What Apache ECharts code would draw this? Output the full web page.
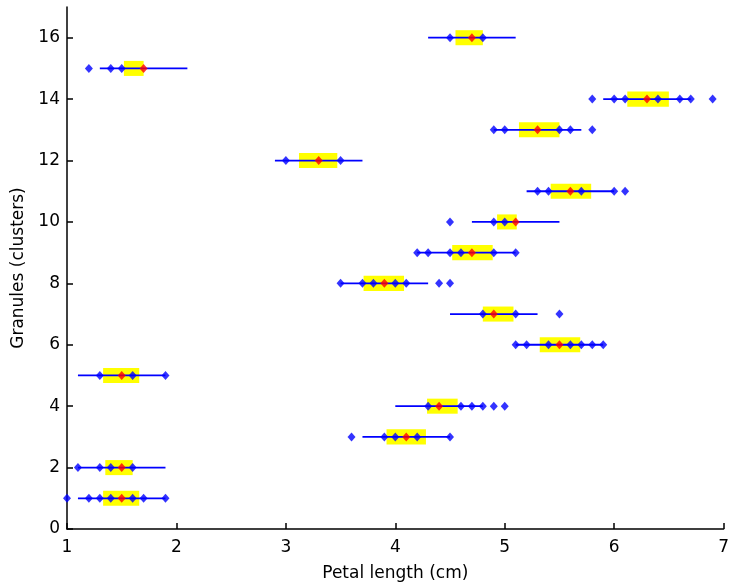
<!DOCTYPE html>
<html>
<head>
<meta charset="utf-8">
<script src="https://cdn.jsdelivr.net/npm/echarts@6/dist/echarts.min.js"></script>
<style>
  html, body { margin: 0; padding: 0; background: #fff; }
  #chart { width: 732px; height: 588px; }
</style>
</head>
<body>
<div id="chart"></div>
<script>
// Granule index (one row per cluster)
const granules = [1, 2, 3, 4, 5, 6, 7, 8, 9, 10, 11, 12, 13, 14, 15, 16];
// Support interval of each granule (blue line)
const supportLow  = [1.1, 1.1, 3.7, 4.0, 1.1, 5.1, 4.5, 3.5, 4.2, 4.7, 5.2, 2.9, 4.9, 5.9, 1.3, 4.3];
const supportHigh = [1.9, 1.9, 4.5, 4.8, 1.9, 5.9, 5.3, 4.3, 5.1, 5.5, 6.0, 3.7, 5.7, 6.7, 2.1, 5.1];
// Core interval of each granule (yellow band)
const coreLow  = [1.33, 1.35, 3.92, 4.29, 1.33, 5.32, 4.80, 3.71, 4.52, 4.93, 5.42, 3.12, 5.13, 6.12, 1.52, 4.55];
const coreHigh = [1.66, 1.60, 4.28, 4.57, 1.66, 5.69, 5.08, 4.08, 4.89, 5.11, 5.79, 3.47, 5.50, 6.50, 1.70, 4.80];
// Prototype of each granule (red marker)
const prototypes = [1.5, 1.5, 4.1, 4.4, 1.5, 5.5, 4.9, 3.9, 4.7, 5.1, 5.6, 3.3, 5.3, 6.3, 1.7, 4.7];
// Member samples of each granule (blue markers)
const members = [
  [1.0, 1.2, 1.3, 1.4, 1.6, 1.7, 1.9],
  [1.1, 1.3, 1.4, 1.6],
  [3.6, 3.9, 4.0, 4.2, 4.5],
  [4.3, 4.6, 4.7, 4.8, 4.9, 5.0],
  [1.3, 1.6, 1.9],
  [5.1, 5.2, 5.4, 5.6, 5.7, 5.8, 5.9],
  [4.8, 5.1, 5.5],
  [3.5, 3.7, 3.8, 4.0, 4.1, 4.4, 4.5],
  [4.2, 4.3, 4.5, 4.6, 4.9, 5.1],
  [4.5, 4.9, 5.0],
  [5.3, 5.4, 5.7, 6.0, 6.1],
  [3.0, 3.5],
  [4.9, 5.0, 5.5, 5.6, 5.8],
  [5.8, 6.0, 6.1, 6.4, 6.6, 6.7, 6.9],
  [1.2, 1.4, 1.5],
  [4.5, 4.8]
];
const xTicks = [1, 2, 3, 4, 5, 6, 7];
const yTicks = [0, 2, 4, 6, 8, 10, 12, 14, 16];

const intervalData = granules.map((g, i) => [g, supportLow[i], supportHigh[i], coreLow[i], coreHigh[i]]);
const memberData = [];
granules.forEach((g, i) => members[i].forEach(v => memberData.push([v, g])));
const protoData = granules.map((g, i) => [prototypes[i], g]);

const BAND_HALF = 0.245;
const FONT = '"DejaVu Sans", Verdana, sans-serif';

const chart = echarts.init(document.getElementById('chart'), null, { renderer: 'canvas' });
chart.setOption({
  animation: false,
  backgroundColor: '#ffffff',
  grid: { left: 67, right: 6, top: 7, bottom: 59, containLabel: false },
  xAxis: {
    type: 'value', min: 1, max: 7, interval: 1,
    name: 'Petal length (cm)', nameLocation: 'middle', nameGap: 36,
    nameTextStyle: { color: '#000', fontSize: 17, fontFamily: FONT },
    axisLine: { show: true, onZero: false, lineStyle: { color: '#000', width: 1.5 } },
    axisTick: { show: true, inside: true, length: 6, customValues: xTicks, lineStyle: { color: '#000', width: 1.5 } },
    axisLabel: { color: '#000', fontSize: 17, fontFamily: FONT, margin: 10, customValues: xTicks },
    splitLine: { show: false }
  },
  yAxis: {
    type: 'value', min: 0, max: 17, interval: 2,
    name: 'Granules (clusters)', nameLocation: 'middle', nameGap: 40,
    nameTextStyle: { color: '#000', fontSize: 17, fontFamily: FONT },
    axisLine: { show: true, onZero: false, lineStyle: { color: '#000', width: 1.5 } },
    axisTick: { show: true, inside: true, length: 6, customValues: yTicks, lineStyle: { color: '#000', width: 1.5 } },
    axisLabel: { color: '#000', fontSize: 17, fontFamily: FONT, margin: 7, customValues: yTicks },
    splitLine: { show: false }
  },
  series: [
    {
      type: 'custom',
      data: intervalData,
      encode: { x: [1, 2, 3, 4], y: 0 },
      renderItem: function (params, api) {
        const g = api.value(0);
        const a = api.coord([api.value(1), g]);
        const b = api.coord([api.value(2), g]);
        const c1 = api.coord([api.value(3), g + BAND_HALF]);
        const c2 = api.coord([api.value(4), g - BAND_HALF]);
        return {
          type: 'group',
          children: [
            { type: 'rect', shape: { x: c1[0], y: c1[1], width: c2[0] - c1[0], height: c2[1] - c1[1] },
              style: { fill: '#ffff00' } },
            { type: 'line', shape: { x1: a[0], y1: a[1], x2: b[0], y2: b[1] },
              style: { stroke: '#0000ff', lineWidth: 1.8 } }
          ]
        };
      },
      z: 1
    },
    {
      type: 'scatter',
      data: memberData,
      symbol: 'diamond',
      symbolSize: [8, 9],
      itemStyle: { color: '#0000ff' },
      z: 2
    },
    {
      type: 'scatter',
      data: protoData,
      symbol: 'diamond',
      symbolSize: [8, 9],
      itemStyle: { color: '#ff0000' },
      z: 3
    }
  ]
});
</script>
</body>
</html>
